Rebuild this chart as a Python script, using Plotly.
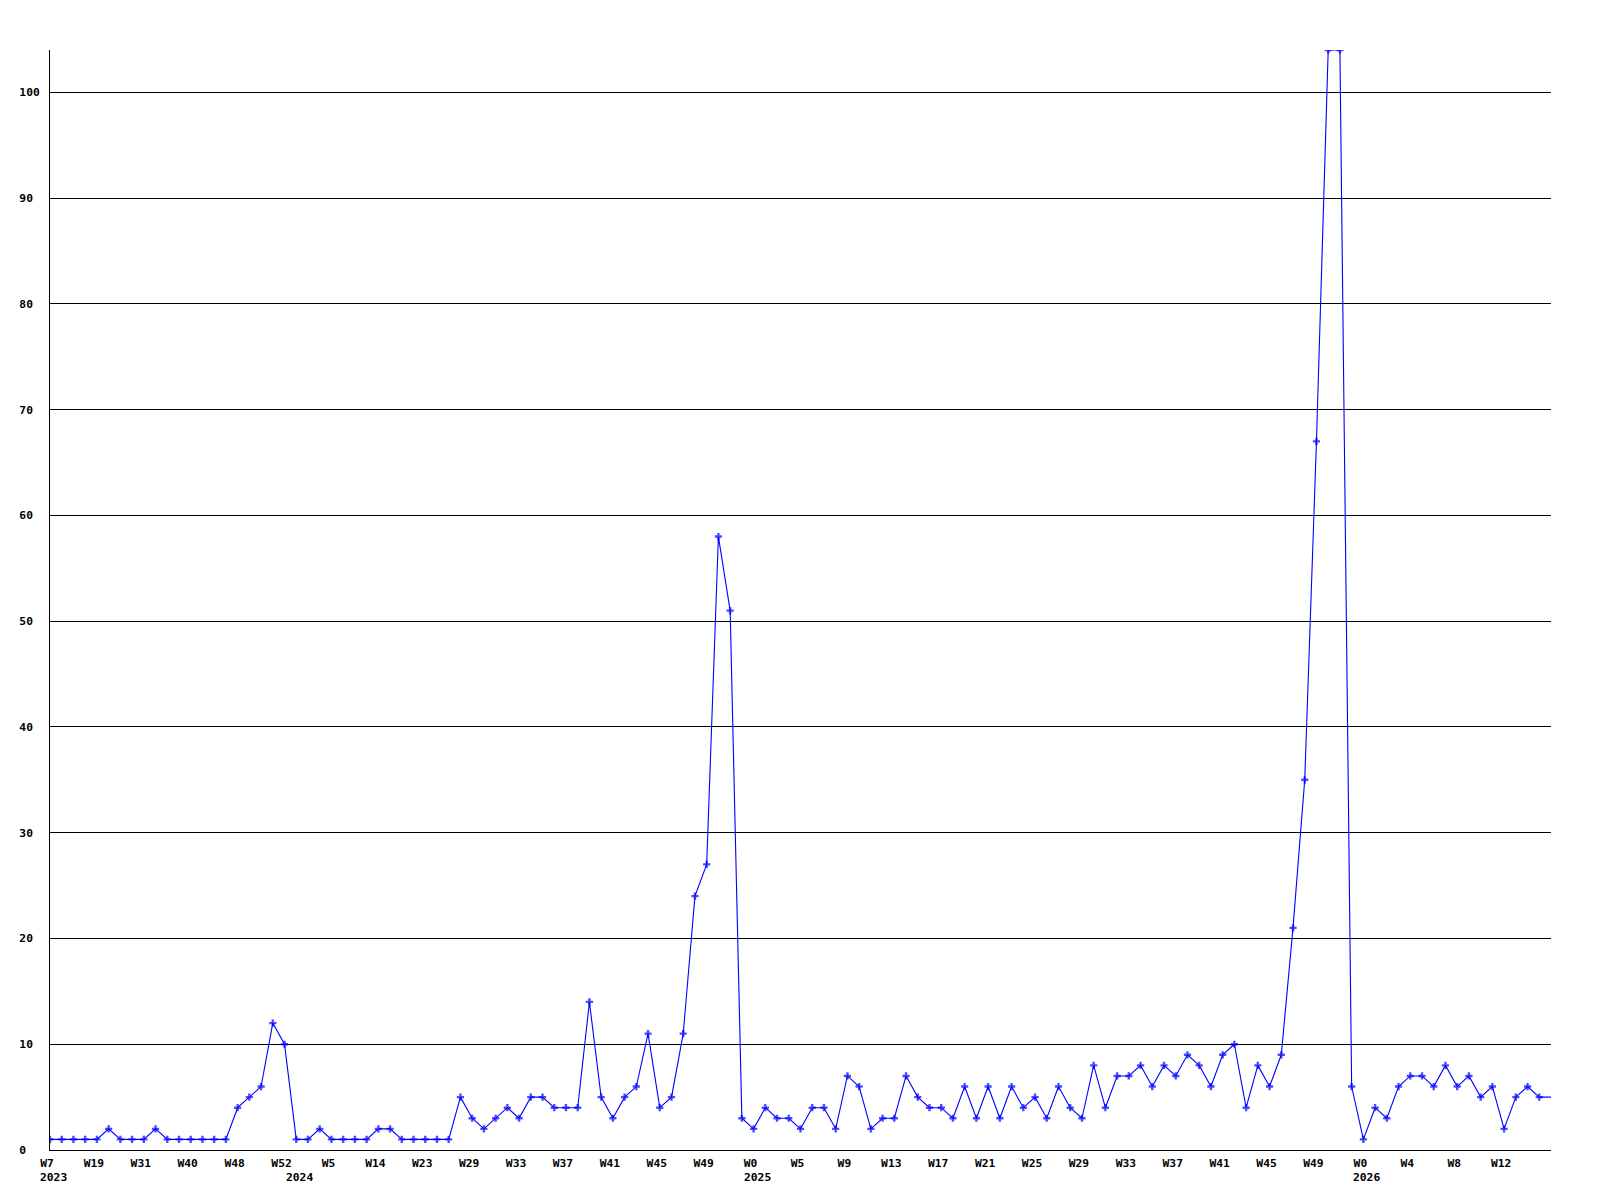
import plotly.graph_objects as go

# weekly counts (one point per week shown on the chart)
counts = [
    1, 1, 1, 1, 1, 2, 1, 1, 1, 2,
    1, 1, 1, 1, 1, 1, 4, 5, 6, 12,
    10, 1, 1, 2, 1, 1, 1, 1, 2, 2,
    1, 1, 1, 1, 1, 5, 3, 2, 3, 4,
    3, 5, 5, 4, 4, 4, 14, 5, 3, 5,
    6, 11, 4, 5, 11, 24, 27, 58, 51, 3,
    2, 4, 3, 3, 2, 4, 4, 2, 7, 6,
    2, 3, 3, 7, 5, 4, 4, 3, 6, 3,
    6, 3, 6, 4, 5, 3, 6, 4, 3, 8,
    4, 7, 7, 8, 6, 8, 7, 9, 8, 6,
    9, 10, 4, 8, 6, 9, 21, 35, 67, 104,
    104, 6, 1, 4, 3, 6, 7, 7, 6, 8,
    6, 7, 5, 6, 2, 5, 6, 5, 5,
]
x_index = list(range(len(counts)))

# x tick labels (every 4th point)
week_tick_pos = list(range(0, 125, 4))
week_tick_labels = [
    "W7", "W19", "W31", "W40", "W48", "W52", "W5", "W14", "W23", "W29",
    "W33", "W37", "W41", "W45", "W49", "W0", "W5", "W9", "W13", "W17",
    "W21", "W25", "W29", "W33", "W37", "W41", "W45", "W49", "W0", "W4",
    "W8", "W12",
]
year_labels = ["2023", "2024", "2025", "2026"]
year_pos = [0, 20, 60, 112]
year_shift = [-12, -1, -12, -12]

# y ticks
y_ticks = [0, 10, 20, 30, 40, 50, 60, 70, 80, 90, 100]
y_tick_text = [f"{v:<3}".replace(" ", "\u00a0") for v in y_ticks]

FONT = dict(family="DejaVu Sans Mono", size=11.3, color="black", weight="bold")

# last (partial) point is drawn without a marker
marker_sizes = [6] * (len(counts) - 1) + [0]

fig = go.Figure()
fig.add_trace(go.Scatter(
    x=x_index, y=counts, mode="lines+markers",
    line=dict(color="#0000ff", width=1.1),
    marker=dict(symbol="cross", size=marker_sizes, color="#0000ff", line=dict(width=0)),
    showlegend=False, hoverinfo="x+y",
))

for label, pos, sh in zip(year_labels, year_pos, year_shift):
    fig.add_annotation(
        x=pos, xref="x", y=0, yref="paper", text=label, showarrow=False,
        xanchor="left", yanchor="top", xshift=sh, yshift=-19, font=FONT,
    )

# page body adds an 8px margin, so the figure is 8px smaller and offset
fig.update_layout(
    width=1592, height=1192,
    margin=dict(l=42, r=49, t=42, b=50, autoexpand=False),
    paper_bgcolor="white", plot_bgcolor="white",
    font=FONT,
)
fig.update_xaxes(
    range=[0, len(counts) - 1], tickmode="array",
    tickvals=week_tick_pos, ticktext=week_tick_labels,
    showgrid=False, zeroline=False, showline=True, linecolor="black",
    linewidth=1, ticks="", tickfont=FONT, ticklabelstandoff=2,
    ticklabelshift=-3, automargin=False,
)
fig.update_yaxes(
    range=[0, 104], tickmode="array", tickvals=y_ticks, ticktext=y_tick_text,
    showgrid=True, gridcolor="black", gridwidth=1, zeroline=False,
    showline=True, linecolor="black", linewidth=1, ticks="",
    tickfont=FONT, ticklabelstandoff=7, automargin=False,
)

fig.write_html("out.html")
